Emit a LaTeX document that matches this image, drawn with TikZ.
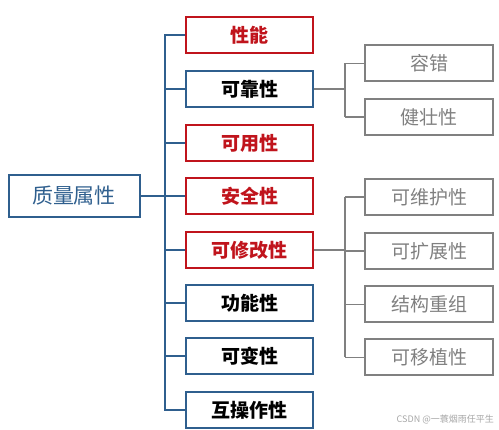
\documentclass[tikz,border=0pt]{standalone}
\usepackage{fontspec}
\newfontfamily\cjk{Noto Sans CJK SC}
\definecolor{bblue}{HTML}{2F5F8E}
\definecolor{rred}{HTML}{C0141C}
\definecolor{ggray}{HTML}{808080}
\begin{document}
\begin{tikzpicture}[x=1pt,y=-1pt,
  base/.style={draw,line width=2pt,inner sep=0pt,font=\cjk\fontsize{18}{20}\selectfont},
  root/.style={base,draw=bblue,text=bblue,minimum width=131pt,minimum height=42pt,font=\cjk\fontsize{21}{22}\selectfont},
  midb/.style={base,draw=bblue,text=black,minimum width=127pt,minimum height=36pt,font=\cjk\bfseries\fontsize{19}{20}\selectfont},
  midr/.style={base,draw=rred,text=rred,minimum width=127pt,minimum height=36pt,font=\cjk\bfseries\fontsize{19}{20}\selectfont},
  leaf/.style={base,draw=ggray,text=ggray,minimum width=128pt,minimum height=36pt,font=\cjk\fontsize{19}{20}\selectfont},
  bl/.style={draw=bblue,line width=2pt},
  gl/.style={draw=ggray,line width=1.8pt}]
\useasboundingbox (0,0) rectangle (499,430);
\node[root] (q) at (74,196) {质量属性};
\node[midr] (m1) at (249.5,35) {性能};
\node[midb] (m2) at (249.5,89) {可靠性};
\node[midr] (m3) at (249.5,143) {可用性};
\node[midr] (m4) at (249.5,196) {安全性};
\node[midr] (m5) at (249.5,250) {可修改性};
\node[midb] (m6) at (249.5,303.5) {功能性};
\node[midb] (m7) at (249.5,356.5) {可变性};
\node[midb] (m8) at (249.5,410) {互操作性};
\node[leaf] (l1) at (429,63.5) {容错};
\node[leaf] (l2) at (429,117) {健壮性};
\node[leaf] (l3) at (429,197) {可维护性};
\node[leaf] (l4) at (429,251) {可扩展性};
\node[leaf] (l5) at (429,304.5) {结构重组};
\node[leaf] (l6) at (429,357.5) {可移植性};
\coordinate (t) at (165,0);
\draw[bl] (q.east) -- (t |- q.east);
\draw[bl,line cap=rect] (t |- m1.west) -- (t |- m8.west);
\foreach \m in {m1,m2,m3,m4,m5,m6,m7,m8}{\draw[bl] (t |- \m.west) -- (\m.west);}
\coordinate (g) at (345,0);
\draw[gl] (m2.east) -- (g |- m2.east);
\draw[gl] (g |- l1.west) -- (g |- l2.west);
\foreach \l in {l1,l2}{\draw[gl] (g |- \l.west) -- (\l.west);}
\draw[gl] (m5.east) -- (g |- m5.east);
\draw[gl] (g |- l3.west) -- (g |- l6.west);
\foreach \l in {l3,l4,l5,l6}{\draw[gl] (g |- \l.west) -- (\l.west);}
\node[text=black!35,font=\cjk\fontsize{9}{10}\selectfont,anchor=east,inner sep=0pt] (wm) at (494,420) {CSDN @一蓑烟雨任平生};
\end{tikzpicture}
\end{document}
